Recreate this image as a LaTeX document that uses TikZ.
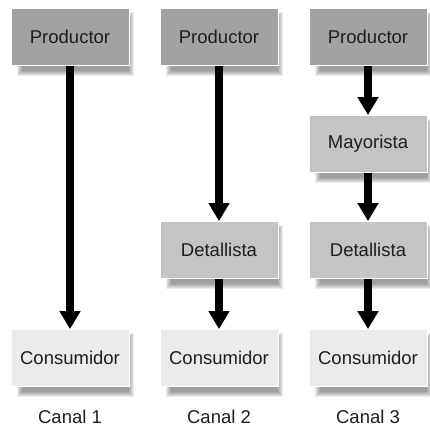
\documentclass[tikz,border=0pt]{standalone}
\usepackage{fontspec}
\setmainfont{Liberation Sans}
\usetikzlibrary{arrows.meta,calc,backgrounds}
\definecolor{prodc}{HTML}{A2A2A2}
\definecolor{midc}{HTML}{C4C4C4}
\definecolor{consc}{HTML}{EBEBEB}
\definecolor{txtc}{HTML}{1E1E1E}
\tikzset{
  x=1pt, y=1pt,
  box/.style={draw=white, line width=0.8pt, minimum width=118pt, minimum height=57pt,
    inner sep=0pt, font=\fontsize{18.5}{20}\selectfont, text=txtc},
  prod/.style={box, fill=prodc},
  mid/.style={box, fill=midc},
  cons/.style={box, fill=consc},
  flow/.style={line width=8pt, -{Triangle[width=20pt,length=18pt]}, black},
  canal/.style={font=\fontsize{18.5}{20}\selectfont, text=txtc},
  shadowlayer/.style={fill=black, opacity=0.075}
}
\begin{document}
\begin{tikzpicture}
\useasboundingbox (0,0) rectangle (430,428);
% column 1
\node[prod] (p1) at (70,391) {Productor};
\node[cons] (c1) at (70,70) {Consumidor};
% column 2
\node[prod] (p2) at (219,391) {Productor};
\node[mid] (d2) at (219,178) {Detallista};
\node[cons] (c2) at (219,70) {Consumidor};
% column 3
\node[prod] (p3) at (368,391) {Productor};
\node[mid] (m3) at (368,284) {Mayorista};
\node[mid] (d3) at (368,178) {Detallista};
\node[cons] (c3) at (368,70) {Consumidor};
% labels
\node[canal] (l1) at (70,11) {Canal 1};
\node[canal] (l2) at (219,11) {Canal 2};
\node[canal] (l3) at (368,11) {Canal 3};
% soft shadows
\begin{scope}[on background layer]
\fill[white] (0,0) rectangle (430,428);
\foreach \n in {p1,c1,p2,d2,c2,p3,m3,d3,c3}{
  \foreach \k in {0,1,2,3,4,5}{
    \fill[shadowlayer] ($(\n.south west)+(6+\k,-10+\k)$) rectangle ($(\n.north east)+(5-\k,-4-\k)$);
  }
}
\end{scope}
% arrows
\draw[flow] (p1.south) -- (c1.north);
\draw[flow] (p2.south) -- (d2.north);
\draw[flow] (d2.south) -- (c2.north);
\draw[flow] (p3.south) -- (m3.north);
\draw[flow] (m3.south) -- (d3.north);
\draw[flow] (d3.south) -- (c3.north);
\end{tikzpicture}
\end{document}
